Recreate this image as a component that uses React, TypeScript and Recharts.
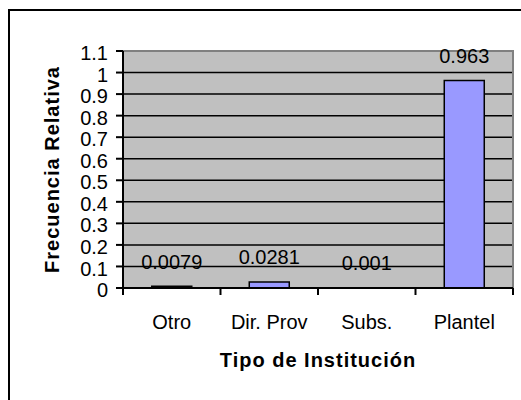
import { Bar, BarChart, CartesianGrid, LabelList, ReferenceArea, XAxis, YAxis } from "recharts";

const CATEGORIES = ["Otro", "Dir. Prov", "Subs.", "Plantel"];
const FRECUENCIA = [0.0079, 0.0281, 0.001, 0.963];
const Y_TICKS = [0, 0.1, 0.2, 0.3, 0.4, 0.5, 0.6, 0.7, 0.8, 0.9, 1, 1.1];

const data = CATEGORIES.map((name, i) => ({ name, value: FRECUENCIA[i] }));

const W = 521;
const H = 400;
const MARGIN = { top: 51, right: 8, left: 0, bottom: 0 };
const Y_AXIS_W = 123;
const X_AXIS_H = 112;
const TICK_SIZE = 7;
const X_TICK_MARGIN = 20;
const FONT = "'Liberation Sans', Arial, sans-serif";
const BAND = (W - Y_AXIS_W - MARGIN.right) / CATEGORIES.length;

const CategoryTick = (props: any) => {
  const { x, y, payload, index } = props;
  const half = BAND / 2;
  const axisY = y - TICK_SIZE - X_TICK_MARGIN;
  return (
    <g>
      <line x1={x - half} x2={x - half} y1={axisY} y2={axisY + TICK_SIZE} stroke="#000" strokeWidth={2} />
      {index === CATEGORIES.length - 1 && (
        <line x1={x + half} x2={x + half} y1={axisY} y2={axisY + TICK_SIZE} stroke="#000" strokeWidth={2} />
      )}
      <text x={x} y={y} dy="0.71em" textAnchor="middle" fill="#000" fontSize={20} fontFamily={FONT}>
        {payload.value}
      </text>
    </g>
  );
};

export default function App() {
  return (
    <div style={{ position: "absolute", left: 0, top: 0, width: W, height: H, overflow: "hidden", background: "#fff" }}>
      <div
        style={{
          position: "absolute",
          left: 8,
          top: 9,
          width: 620,
          height: 520,
          border: "2px solid #000",
        }}
      />
      <div style={{ position: "absolute", left: 0, top: 0 }}>
        <BarChart width={W} height={H} data={data} margin={MARGIN} barCategoryGap="29.5%">
          <CartesianGrid vertical={false} fill="#C0C0C0" fillOpacity={1} stroke="#000" strokeWidth={1.5} />
          <XAxis
            dataKey="name"
            height={X_AXIS_H}
            axisLine={{ stroke: "#000", strokeWidth: 2 }}
            tickLine={false}
            tickSize={TICK_SIZE}
            tickMargin={X_TICK_MARGIN}
            interval={0}
            tick={(p: any) => <CategoryTick {...p} />}
            label={{
              value: "Tipo de Institución",
              position: "center",
              dy: 16,
              fill: "#000",
              fontSize: 20,
              fontWeight: "bold",
              fontFamily: FONT,
              letterSpacing: 1,
            }}
          />
          <YAxis
            width={Y_AXIS_W}
            domain={[0, 1.1]}
            ticks={Y_TICKS}
            interval={0}
            axisLine={{ stroke: "#000", strokeWidth: 2 }}
            tickLine={{ stroke: "#000", strokeWidth: 2 }}
            tickSize={TICK_SIZE}
            tickMargin={8}
            tick={{ fill: "#000", fontSize: 20, fontFamily: FONT, dy: 2 }}
            label={{
              value: "Frecuencia Relativa",
              angle: -90,
              position: "center",
              dx: -10,
              fill: "#000",
              fontSize: 20,
              fontWeight: "bold",
              fontFamily: FONT,
              letterSpacing: 1,
            }}
          />
          <Bar dataKey="value" fill="#9999FF" stroke="#000" strokeWidth={1.5} isAnimationActive={false}>
            <LabelList
              dataKey="value"
              position="top"
              offset={17.5}
              fill="#000"
              fontSize={20}
              fontFamily={FONT}
            />
          </Bar>
          <ReferenceArea y1={0} y2={1.1} stroke="#808080" strokeWidth={2} fill="none" fillOpacity={0} />
        </BarChart>
      </div>
    </div>
  );
}
